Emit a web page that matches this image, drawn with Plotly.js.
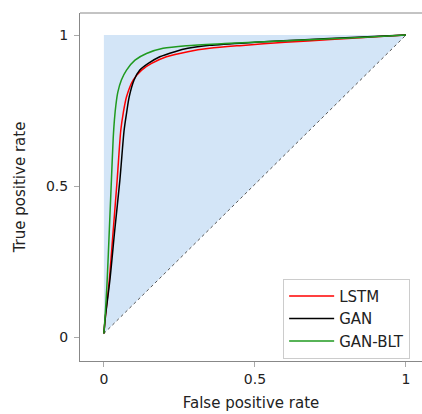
<!DOCTYPE html>
<html>
<head>
<meta charset="utf-8">
<script src="https://cdn.plot.ly/plotly-3.0.1.min.js"></script>
<style>html,body{margin:0;padding:0;background:#fff;}#chart{width:422px;height:414px;}</style>
</head>
<body>
<div id="chart"></div>
<script>
// ROC curves
const seriesNames = ["LSTM", "GAN", "GAN-BLT"];
const lstmFpr = [0, 0.005, 0.018, 0.031, 0.044, 0.056, 0.064, 0.075, 0.097, 0.125, 0.158, 0.207, 0.278, 0.35, 0.45, 0.6, 0.75, 0.9, 1];
const lstmTpr = [0.012, 0.067, 0.189, 0.354, 0.52, 0.685, 0.741, 0.796, 0.851, 0.884, 0.906, 0.928, 0.945, 0.956, 0.965, 0.976, 0.985, 0.994, 1];
const ganFpr = [0, 0.005, 0.020, 0.036, 0.053, 0.067, 0.075, 0.084, 0.100, 0.119, 0.147, 0.185, 0.235, 0.278, 0.35, 0.5, 0.65, 0.8, 1];
const ganTpr = [0.012, 0.067, 0.189, 0.354, 0.52, 0.685, 0.741, 0.796, 0.851, 0.884, 0.906, 0.928, 0.945, 0.956, 0.966, 0.976, 0.984, 0.991, 1];
const bltFpr = [0, 0.004, 0.011, 0.018, 0.025, 0.031, 0.035, 0.040, 0.046, 0.058, 0.075, 0.103, 0.141, 0.196, 0.274, 0.4, 0.55, 0.7, 0.85, 1];
const bltTpr = [0.012, 0.067, 0.189, 0.354, 0.52, 0.66, 0.72, 0.77, 0.81, 0.851, 0.884, 0.917, 0.939, 0.956, 0.965, 0.972, 0.979, 0.985, 0.992, 1];
// reference area (filled) and chance diagonal
const areaX = [0, 0, 1, 0];
const areaY = [0.012, 1, 1, 0.012];
const diagX = [0, 1];
const diagY = [0.012, 1];
const tickVals = [0, 0.5, 1];
const tickText = ["0", "0.5", "1"];

const font = "DejaVu Sans, Verdana, sans-serif";
const traces = [
  {x: areaX, y: areaY, type: "scatter", mode: "lines", fill: "toself", fillcolor: "#d3e5f7", line: {width: 0, color: "rgba(0,0,0,0)"}, showlegend: false, hoverinfo: "skip"},
  {x: diagX, y: diagY, type: "scatter", mode: "lines", line: {color: "#555", width: 1, dash: "dot"}, showlegend: false, hoverinfo: "skip"},
  {x: lstmFpr, y: lstmTpr, name: seriesNames[0], type: "scatter", mode: "lines", line: {color: "#ff0000", width: 1.5, shape: "spline", smoothing: 0.8}},
  {x: ganFpr, y: ganTpr, name: seriesNames[1], type: "scatter", mode: "lines", line: {color: "#000000", width: 1.5, shape: "spline", smoothing: 0.8}},
  {x: bltFpr, y: bltTpr, name: seriesNames[2], type: "scatter", mode: "lines", line: {color: "#1f9a1f", width: 1.5, shape: "spline", smoothing: 0.8}}
];

const layout = {
  width: 422, height: 414,
  margin: {l: 80, r: 0, t: 13, b: 53},
  paper_bgcolor: "#fff", plot_bgcolor: "#fff",
  font: {family: font, size: 14, color: "#222"},
  showlegend: true,
  xaxis: {
    range: [-0.079, 1.053], tickvals: tickVals, ticktext: tickText,
    showgrid: false, zeroline: false, showline: true, linecolor: "#888", linewidth: 1,
    ticks: "outside", ticklen: 5, tickcolor: "#aaa", tickfont: {family: font, size: 14, color: "#222"},
    title: {text: "False positive rate", font: {family: font, size: 15, color: "#222"}, standoff: 11}
  },
  yaxis: {
    range: [-0.079, 1.073], tickvals: tickVals, ticktext: tickText,
    showgrid: false, zeroline: false, showline: true, linecolor: "#888", linewidth: 1,
    ticks: "outside", ticklen: 5, tickcolor: "#aaa", ticklabelstandoff: 3, tickfont: {family: font, size: 14, color: "#222"},
    title: {text: "True positive rate", font: {family: font, size: 15, color: "#222"}, standoff: 16}
  },
  shapes: [
    {type: "line", xref: "paper", yref: "paper", x0: 0, x1: 1, y0: 1, y1: 1, line: {color: "#888", width: 1}}
  ],
  legend: {
    x: 0.594, y: 0.236, xanchor: "left", yanchor: "top",
    bgcolor: "#fff", bordercolor: "#ccc", borderwidth: 1, itemwidth: 45,
    font: {family: font, size: 15, color: "#222"}, tracegroupgap: 0
  }
};

Plotly.newPlot("chart", traces, layout, {displayModeBar: false, staticPlot: true});
</script>
</body>
</html>
